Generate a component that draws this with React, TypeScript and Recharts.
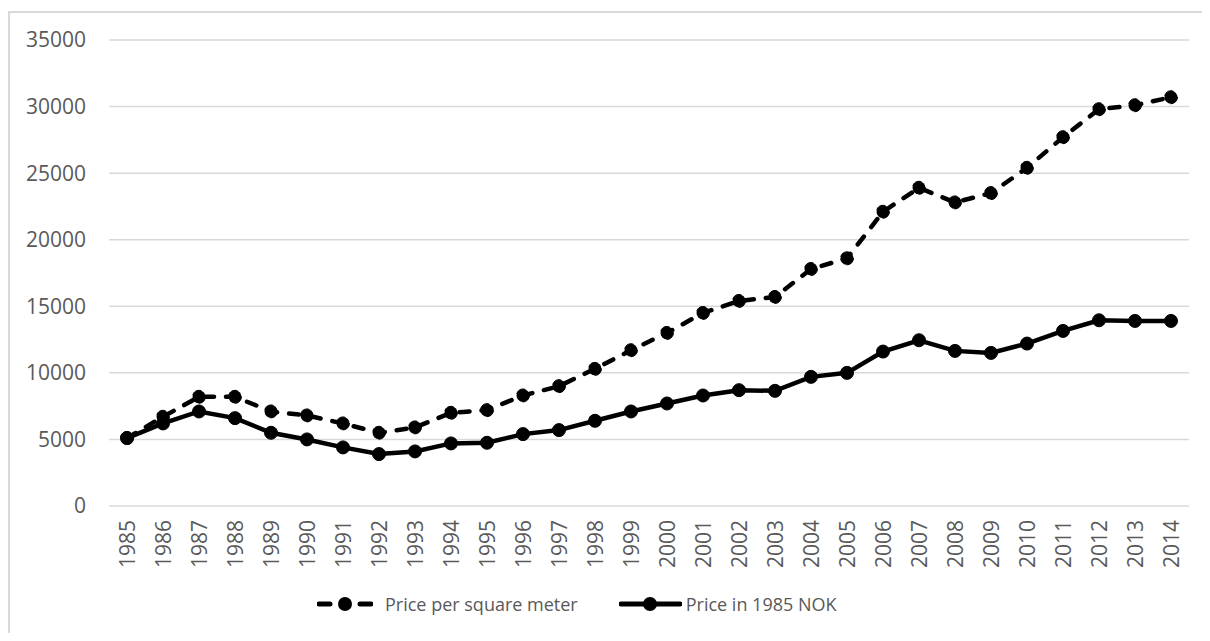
import { CartesianGrid, Legend, Line, LineChart, XAxis, YAxis } from "recharts"

const years = [
  "1985", "1986", "1987", "1988", "1989", "1990", "1991", "1992", "1993", "1994",
  "1995", "1996", "1997", "1998", "1999", "2000", "2001", "2002", "2003", "2004",
  "2005", "2006", "2007", "2008", "2009", "2010", "2011", "2012", "2013", "2014",
]

const pricePerSqm = [
  5100, 6700, 8200, 8200, 7100, 6800, 6200, 5500, 5900, 7000,
  7200, 8300, 9000, 10300, 11700, 13000, 14500, 15400, 15700, 17800,
  18600, 22100, 23900, 22800, 23500, 25400, 27700, 29800, 30100, 30700,
]

const price1985Nok = [
  5100, 6200, 7100, 6600, 5500, 5000, 4400, 3900, 4100, 4700,
  4750, 5400, 5700, 6400, 7100, 7700, 8300, 8700, 8650, 9700,
  10000, 11600, 12450, 11650, 11500, 12200, 13150, 13950, 13900, 13900,
]

const yTicks = [0, 5000, 10000, 15000, 20000, 25000, 30000, 35000]

const data = years.map((year, i) => ({
  year,
  sqm: pricePerSqm[i],
  nok: price1985Nok[i],
}))

const FONT = "'Open Sans', sans-serif"
const TEXT = "#595959"

function YearTick(props: any) {
  const { x, y, payload } = props
  return (
    <g transform={`translate(${x},${y})`}>
      <text
        x={-6}
        y={0}
        dy="0.36em"
        textAnchor="end"
        transform="rotate(-90)"
        fill={TEXT}
        fontSize={21}
        fontFamily={FONT}
      >
        {payload.value}
      </text>
    </g>
  )
}

function LegendBox() {
  return (
    <div
      style={{
        display: "flex",
        alignItems: "center",
        height: 40,
        marginLeft: 288,
        fontFamily: FONT,
        fontSize: 18,
        color: TEXT,
      }}
    >
      <svg width={56} height={20}>
        <line x1={2} y1={10} x2={13} y2={10} stroke="#000" strokeWidth={5} strokeLinecap="round" />
        <circle cx={28} cy={10} r={7} fill="#000" />
        <line x1={43} y1={10} x2={54} y2={10} stroke="#000" strokeWidth={5} strokeLinecap="round" />
      </svg>
      <span style={{ marginLeft: 12, marginRight: 41 }}>Price per square meter</span>
      <svg width={63} height={20}>
        <line x1={2} y1={10} x2={61} y2={10} stroke="#000" strokeWidth={5} strokeLinecap="round" />
        <circle cx={31} cy={10} r={7} fill="#000" />
      </svg>
      <span style={{ marginLeft: 4 }}>Price in 1985 NOK</span>
    </div>
  )
}

export default function App() {
  return (
    <div
      style={{
        position: "relative",
        width: 1202,
        height: 633,
        marginBottom: -8,
        overflow: "hidden",
      }}
    >
      <div
        style={{
          position: "absolute",
          top: 3,
          left: 0,
          width: 1400,
          height: 800,
          borderTop: "2px solid #d9d9d9",
          borderLeft: "2px solid #d9d9d9",
        }}
      />
      <LineChart
        width={1202}
        height={633}
        data={data}
        margin={{ top: 32, right: 21, bottom: 35, left: 21 }}
      >
        <CartesianGrid vertical={false} stroke="#d9d9d9" strokeWidth={1.5} />
        <XAxis
          dataKey="year"
          interval={0}
          padding={{ left: 18, right: 18 }}
          axisLine={false}
          tickLine={false}
          height={60}
          tick={<YearTick />}
        />
        <YAxis
          domain={[0, 35000]}
          ticks={yTicks}
          width={80}
          axisLine={false}
          tickLine={false}
          tickMargin={17}
          tick={{ fill: TEXT, fontSize: 21, fontFamily: FONT }}
        />
        <Legend verticalAlign="bottom" content={<LegendBox />} wrapperStyle={{ bottom: 17 }} />
        <Line
          type="linear"
          dataKey="sqm"
          name="Price per square meter"
          stroke="#000"
          strokeWidth={4.5}
          strokeDasharray="10 12"
          strokeLinecap="round"
          dot={{ r: 6.5, fill: "#000", stroke: "#000", strokeWidth: 1 }}
          isAnimationActive={false}
        />
        <Line
          type="linear"
          dataKey="nok"
          name="Price in 1985 NOK"
          stroke="#000"
          strokeWidth={4.5}
          dot={{ r: 6.5, fill: "#000", stroke: "#000", strokeWidth: 1 }}
          isAnimationActive={false}
        />
      </LineChart>
    </div>
  )
}
